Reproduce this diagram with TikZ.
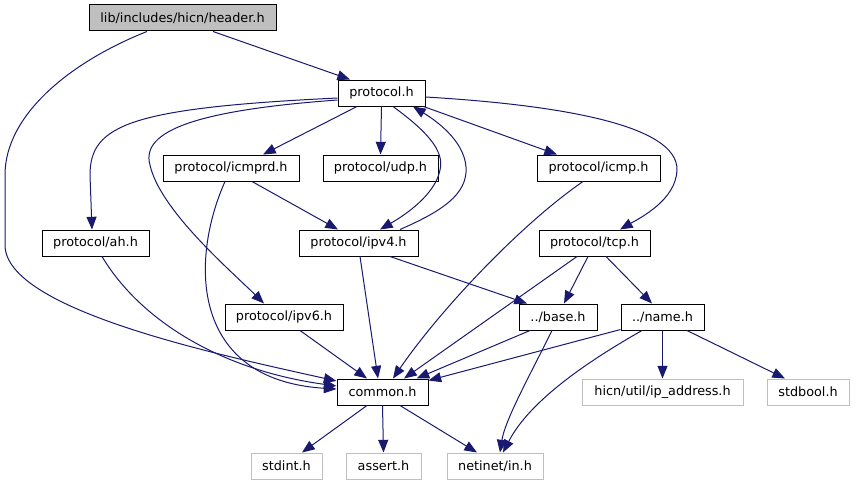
\documentclass[tikz,border=0pt]{standalone}
\usepackage{fontspec}
\setmainfont{DejaVu Sans}
\usetikzlibrary{arrows.meta,calc}
\definecolor{edgec}{HTML}{191970}
\definecolor{grayb}{HTML}{BFBFBF}
\begin{document}
\begin{tikzpicture}[x=0.75pt,y=-0.75pt,
  nd/.style={draw=black, line width=0.75pt, inner sep=0pt, minimum height=19.5pt, font=\fontsize{9.6}{11}\selectfont},
  sys/.style={nd, draw=grayb},
  topnd/.style={nd, fill=grayb},
  dep/.style={draw=edgec, line width=0.75pt, -{Triangle[length=9.5pt,width=7.5pt]}}]
\useasboundingbox (0,0) rectangle (855,485);
% nodes
\node[topnd, minimum width=140.25pt] (hdr) at (182.5,18) {lib/includes/hicn/header.h};
\node[nd, minimum width=65.25pt] (proto) at (381.5,93) {protocol.h};
\node[nd, minimum width=102pt] (icmprd) at (231,168) {protocol/icmprd.h};
\node[nd, minimum width=86.25pt] (udp) at (380.5,168) {protocol/udp.h};
\node[nd, minimum width=92.25pt] (icmp) at (598.5,168) {protocol/icmp.h};
\node[nd, minimum width=80.25pt] (ah) at (95.5,243) {protocol/ah.h};
\node[nd, minimum width=89.25pt] (ipv4) at (358.5,243) {protocol/ipv4.h};
\node[nd, minimum width=83.25pt] (tcp) at (594.5,243) {protocol/tcp.h};
\node[nd, minimum width=88.5pt] (ipv6) at (284,317) {protocol/ipv6.h};
\node[nd, minimum width=58.5pt] (base) at (558,317) {../base.h};
\node[nd, minimum width=62.25pt] (name) at (662.5,317) {../name.h};
\node[nd, minimum width=68.25pt] (common) at (382.5,392) {common.h};
\node[sys, minimum width=120.75pt] (ipaddr) at (662.5,392) {hicn/util/ip\_address.h};
\node[sys, minimum width=61.5pt] (stdbool) at (808,392) {stdbool.h};
\node[sys, minimum width=53.25pt] (stdint) at (286.5,466) {stdint.h};
\node[sys, minimum width=56.25pt] (assert) at (383.5,466) {assert.h};
\node[sys, minimum width=72pt] (netinet) at (495,466) {netinet/in.h};
% edges
\draw[dep] ($(hdr.south)+(30.5,0)$) -- ($(proto.north)+(-31.5,0)$);
\draw[dep] ($(hdr.south)+(-35.5,0)$) .. controls (70,62) and (5,115) .. (5,175) -- (5,245) .. controls (5,310) and (220,355) .. ($(common.west)+(0,-11)$);
\draw[dep] ($(proto.west)+(0,5)$) .. controls (130,108) and (90,125) .. (90,175) -- ($(ah.north)+(-3.5,0)$);
\draw[dep] ($(proto.west)+(0,7)$) .. controls (200,110) and (140,130) .. (150,165) .. controls (160,210) and (230,270) .. ($(ipv6.north)+(-20,0)$);
\draw[dep] ($(icmprd.south)+(-6,0)$) .. controls (190,260) and (190,380) .. ($(common.west)+(0,-3)$);
\draw[dep] ($(proto.south)+(-24.5,0)$) -- ($(icmprd.north)+(32,0)$);
\draw[dep] (proto.south) -- (udp.north);
\draw[dep] ($(proto.south east)+(-2,0)$) -- ($(icmp.north)+(-41.5,0)$);
\draw[dep] ($(proto.east)+(0,4)$) .. controls (560,105) and (678,125) .. (677,170) .. controls (676,200) and (640,218) .. ($(tcp.north)+(25.5,0)$);
\draw[dep] ($(proto.south)+(11.5,0)$) .. controls (425,130) and (445,150) .. (440,170) .. controls (435,195) and (405,215) .. ($(ipv4.north)+(21.5,0)$);
\draw[dep] ($(ipv4.north)+(41.5,0)$) .. controls (440,212) and (468,195) .. (466,167) .. controls (464,140) and (435,120) .. ($(proto.south)+(31.5,0)$);
\draw[dep] ($(icmprd.south)+(21,0)$) -- ($(ipv4.north)+(-20.5,0)$);
\draw[dep] ($(ipv4.south)+(1.5,0)$) -- ($(common.north)+(-4.5,0)$);
\draw[dep] ($(ipv4.south)+(31.5,0)$) -- ($(base.north)+(-31,0)$);
\draw[dep] ($(icmp.south)+(-15.5,0)$) .. controls (520,225) and (440,310) .. ($(common.north)+(10.5,0)$);
\draw[dep] ($(tcp.south)+(-17.5,0)$) -- ($(common.north)+(21.5,0)$);
\draw[dep] ($(base.south)+(-28,0)$) -- ($(common.north)+(34,0)$);
\draw[dep] ($(name.south west)+(0,-1)$) -- ($(common.north east)+(0,2)$);
\draw[dep] ($(tcp.south)+(-6.5,0)$) -- ($(base.north)+(6,0)$);
\draw[dep] ($(tcp.south)+(11.5,0)$) -- ($(name.north)+(-10.5,0)$);
\draw[dep] ($(base.south)+(-6,0)$) .. controls (530,375) and (505,420) .. ($(netinet.north)+(5,0)$);
\draw[dep] ($(name.south)+(-20.5,0)$) .. controls (590,360) and (530,400) .. ($(netinet.north)+(8,0)$);
\draw[dep] (name.south) -- (ipaddr.north);
\draw[dep] ($(name.south)+(24.5,0)$) -- ($(stdbool.north)+(-23,0)$);
\draw[dep] ($(common.south)+(-15.5,0)$) -- ($(stdint.north)+(15.5,0)$);
\draw[dep] (common.south) -- (assert.north);
\draw[dep] ($(common.south)+(17.5,0)$) -- ($(netinet.north)+(-18,0)$);
\draw[dep] ($(ah.south)+(6.5,0)$) .. controls (140,320) and (220,370) .. ($(common.west)+(0,-6)$);
\draw[dep] ($(ipv6.south)+(16,0)$) -- ($(common.north)+(-15.5,0)$);
\end{tikzpicture}
\end{document}
